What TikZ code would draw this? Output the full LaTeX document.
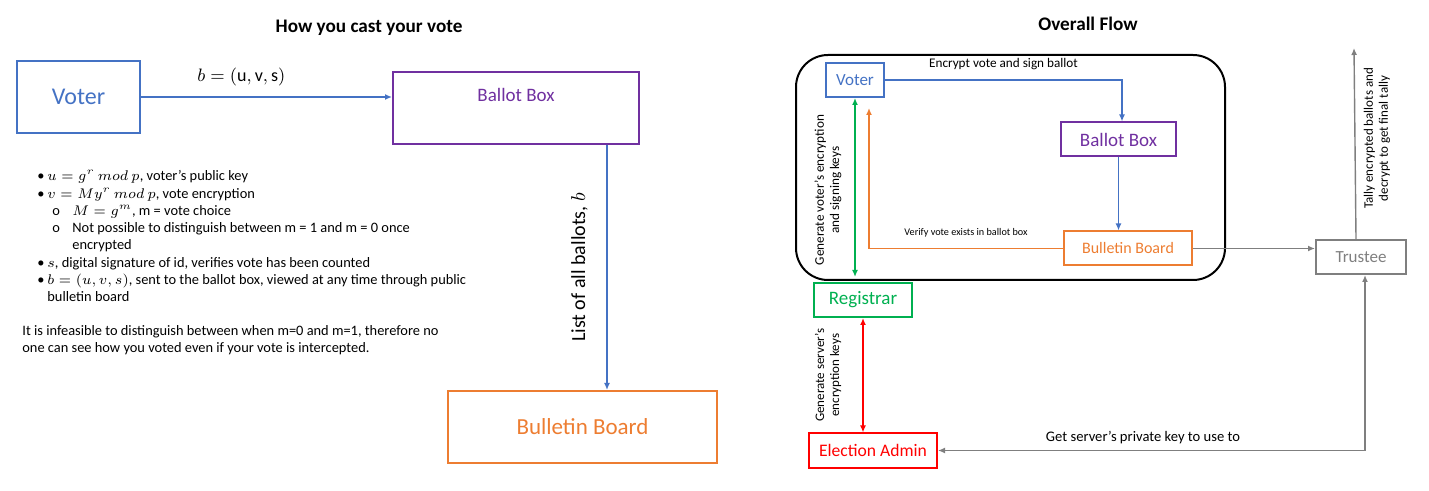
\documentclass[tikz,border=0pt]{standalone}
\usepackage{fontspec}
\setmainfont{Carlito}
\usetikzlibrary{arrows.meta}
\definecolor{blue}{HTML}{4472C4}
\definecolor{purple}{HTML}{7030A0}
\definecolor{orange}{HTML}{ED7D31}
\definecolor{green}{HTML}{00B050}
\definecolor{red}{HTML}{FF0000}
\definecolor{grey50}{HTML}{7F7F7F}

\tikzset{
  box/.style={draw, line width=1pt, inner sep=0pt, align=center},
  fbox/.style={draw, line width=1pt, inner sep=0pt, minimum height=17pt},
  frame/.style={draw, line width=1pt, rounded corners=16pt, inner sep=0pt},
  link/.style={-{Latex[length=3.5pt,width=3pt]}, line width=0.7pt},
  twoway/.style={{Latex[length=3.5pt,width=3pt]}-{Latex[length=3.5pt,width=3pt]}, line width=0.7pt},
  lbl/.style={font=\fontsize{6.6}{7.6}\selectfont, inner sep=0pt, align=center},
  notes/.style={font=\fontsize{7.2}{8.65}\selectfont, inner sep=0pt, align=left},
  heading/.style={font=\fontsize{9.6}{11}\selectfont\bfseries},
}

\begin{document}
\begin{tikzpicture}[x=0.5pt, y=-0.5pt]

  \useasboundingbox (0,0) rectangle (1429,491);

  % START OF THE LEFT PART

  \node[heading] (castttl) at (369,28) {How you cast your vote};

  % BOXES
  \node[box, blue, minimum width=61.5pt, minimum height=36pt, font=\fontsize{12}{14}\selectfont] (voterL) at (78.5,97) {Voter};
  \node[box, purple, minimum width=123pt, text height=15pt, text depth=21pt, font=\fontsize{9.5}{11}\selectfont] (ballotL) at (516,108) {Ballot Box};
  \node[box, orange, minimum width=134.5pt, minimum height=36pt, font=\fontsize{11.5}{13}\selectfont] (bulletinL) at (582.5,427) {Bulletin Board};

  % ARROWS
  \draw[link, blue] (voterL.east) -- (voterL.east -| ballotL.west)
    node[pos=0.4, above=1.8pt, black, font=\fontsize{9}{11}\selectfont] (ballotlbl) {$b = (\mathrm{u}, \mathrm{v}, \mathrm{s})$};
  \draw[link, blue] ([xshift=-16.5pt]ballotL.south east) -- ([xshift=-16.5pt]ballotL.south east |- bulletinL.north)
    coordinate[midway] (listmid);
  \node[rotate=90, anchor=base, font=\fontsize{10}{12}\selectfont] (listlbl) at ([xshift=-11pt]listmid) {List of all ballots, $b$};

  % NOTES
  \node[notes, anchor=north west] (keys) at (37,170) {%
    \makebox[5pt][l]{\textbullet}$u = g^{r}\ mod\ p$, voter’s public key\\
    \makebox[5pt][l]{\textbullet}$v = My^{r}\ mod\ p$, vote encryption\\
    \hspace*{7.5pt}\makebox[10pt][l]{o}$M = g^{m}$, m = vote choice\\
    \hspace*{7.5pt}\makebox[10pt][l]{o}Not possible to distinguish between m = 1 and m = 0 once\\
    \hspace*{17.5pt}encrypted\\
    \makebox[5pt][l]{\textbullet}$s$, digital signature of id, verifies vote has been counted\\
    \makebox[5pt][l]{\textbullet}$b = (u, v, s)$, sent to the ballot box, viewed at any time through public\\
    \hspace*{5pt}bulletin board};
  \node[notes, anchor=north west] (remark) at (22,325) {%
    It is infeasible to distinguish between when m=0 and m=1, therefore no\\
    one can see how you voted even if your vote is intercepted.};

  %%%%

  % START OF THE RIGHT PART

  \node[heading] (flowttl) at (1088,24) {Overall Flow};

  % BOXES
  \node[frame, minimum width=214.5pt, minimum height=112.5pt] (core) at (1010.5,167.5) {};
  \node[fbox, blue, minimum width=29pt, font=\fontsize{8.5}{10}\selectfont] (voterR) at (855,80) {Voter};
  \node[fbox, purple, minimum width=57.5pt, font=\fontsize{9.5}{11}\selectfont] (ballotR) at (1118.5,139.5) {Ballot Box};
  \node[fbox, orange, minimum width=64pt, font=\fontsize{8}{10}\selectfont] (bulletinR) at (1128,248.5) {Bulletin Board};
  \node[fbox, green, minimum width=49pt, font=\fontsize{9.5}{11}\selectfont] (registrar) at (863,300) {Registrar};
  \node[fbox, red, minimum width=64pt, font=\fontsize{8.8}{10}\selectfont] (admin) at (873,450.5) {Election Admin};
  \node[fbox, grey50, minimum width=45pt, font=\fontsize{8.5}{10}\selectfont] (trustee) at (1361,257) {Trustee};

  % ARROWS
  \draw[link, blue] (voterR.east) -| ([xshift=1.75pt]ballotR.north)
    node[lbl, pos=0.25, above=5pt, black] (encryptlbl) {Encrypt vote and sign ballot};
  \draw[link, blue] (ballotR.south) -- (ballotR.south |- bulletinR.north);
  \draw[link, orange] (bulletinR.west) -| ([xshift=7pt, yshift=-5pt]voterR.south)
    node[lbl, pos=0.25, above=5.2pt, black, font=\fontsize{5.1}{6}\selectfont] (verifylbl) {Verify vote exists in ballot box};
  \draw[twoway, green, shorten >=2.5pt] (voterR.south) -- (voterR.south |- registrar.north)
    coordinate[midway] (keysmid);
  \node[lbl, rotate=90] (voterkeys) at ([xshift=-13.5pt]keysmid) {Generate voter’s encryption\\and signing keys};
  \draw[twoway, red] (registrar.south) -- (registrar.south |- admin.north)
    coordinate[midway] (servermid);
  \node[lbl, rotate=90, font=\fontsize{6.5}{7.5}\selectfont] (serverkeys) at ([xshift=-17.5pt]servermid) {Generate server’s\\encryption keys};
  \draw[link, grey50] (bulletinR.east) -- (bulletinR.east -| trustee.west);
  \draw[twoway, grey50] ([xshift=2pt]trustee.south) |- (admin.east)
    node[lbl, pos=0.76, above=2.75pt, black, font=\fontsize{7.3}{8.5}\selectfont] (privlbl) {Get server’s private key to use to};
  \coordinate (tallytop) at (1354,48);
  \draw[link, grey50] ([xshift=-2.5pt]trustee.north) -- (tallytop)
    coordinate[midway] (tallymid);
  \node[lbl, rotate=90, font=\fontsize{6.5}{7.5}\selectfont] (tallylbl) at ([xshift=11pt, yshift=2.5pt]tallymid) {Tally encrypted ballots and\\decrypt to get final tally};

\end{tikzpicture}
\end{document}
